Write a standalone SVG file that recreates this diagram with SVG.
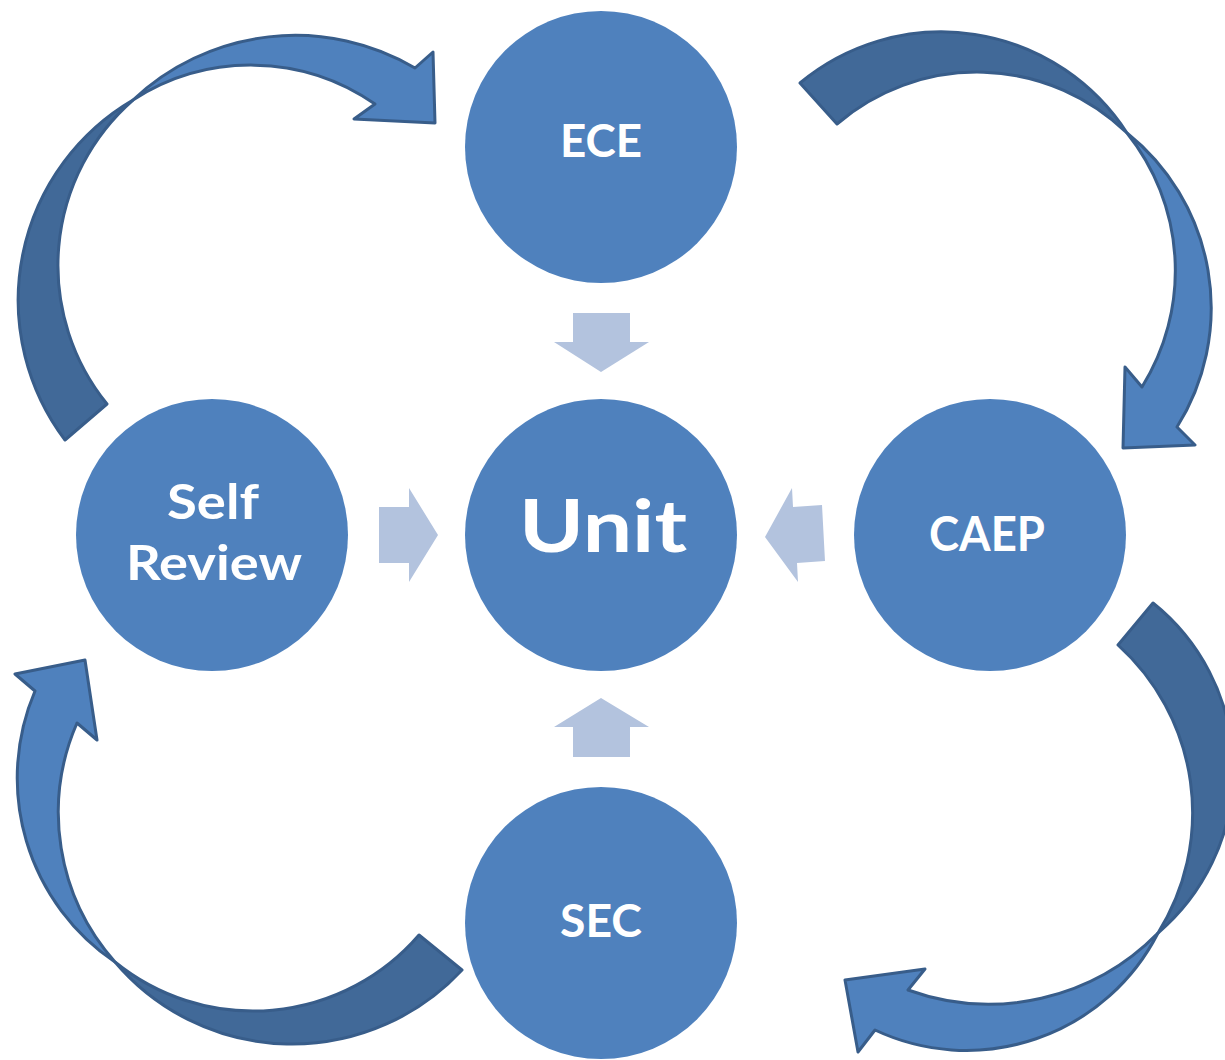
<svg xmlns="http://www.w3.org/2000/svg" width="1225" height="1060" viewBox="0 0 1225 1060">
<style>
.node{fill:#4F81BD}
.lbl{font-family:Lato,"Open Sans","Liberation Sans",sans-serif;font-weight:bold;fill:#FFFFFF;text-anchor:middle}
.dark{fill:#416998;stroke:#385D8A;stroke-width:3;stroke-linejoin:round}
.light{fill:#4F81BD;stroke:#385D8A;stroke-width:3;stroke-linejoin:round}
.flow{fill:#B3C3DE}
</style>
<rect width="1225" height="1060" fill="#FFFFFF"/>
<g id="connectors">
  <g id="cycle-tl">
    <path class="dark" d="M65,440 A232,232 0 0 1 133,100 A220,220 0 0 0 107,404 Z"/>
    <path class="light" d="M133,100 A236,236 0 0 1 415,68 L433,52 L435,123 L354,119 L375,104 A217,217 0 0 0 133,100 Z"/>
  </g>
  <g id="cycle-tr">
    <path class="dark" d="M800,83 A221,221 0 0 1 1127,133 A215,215 0 0 0 837,124 Z"/>
    <path class="light" d="M1127,133 A224,224 0 0 1 1177,427 L1195,445 L1123,448 L1125,367 L1142,387 A220,220 0 0 0 1127,133 Z"/>
  </g>
  <g id="cycle-br">
    <path class="dark" d="M1153,603 A214,214 0 0 1 1158,933 A226,226 0 0 0 1118,645 Z"/>
    <path class="light" d="M1158,933 A215,215 0 0 1 875,1030 L858,1052 L845,980 L925,969 L908,990 A237,237 0 0 0 1158,933 Z"/>
  </g>
  <g id="cycle-bl">
    <path class="dark" d="M462,970 A232,232 0 0 1 115,962 A219,219 0 0 0 419,935 Z"/>
    <path class="light" d="M115,962 A222,222 0 0 1 35,691 L15,674 L85,660 L97,740 L77,723 A225,225 0 0 0 115,962 Z"/>
  </g>
  <polygon class="flow" points="573,313 630,313 630,342 649,342 601,372 554,342 573,342"/>
  <polygon class="flow" points="573,757 630,757 630,727 649,727 601,698 554,727 573,727"/>
  <polygon class="flow" points="379,507 409,507 409,488 438,535 409,582 409,563 379,563"/>
  <polygon class="flow" points="822,505 793,507 792,488 765,537 798,582 797,563 825,561"/>
</g>
<g id="node-ece">
  <circle class="node" cx="601" cy="147" r="136"/>
  <text class="lbl" x="601" y="157" font-size="45" textLength="82" lengthAdjust="spacingAndGlyphs">ECE</text>
</g>
<g id="node-unit">
  <circle class="node" cx="601" cy="535" r="136"/>
  <text class="lbl" x="603" y="552" font-size="73" textLength="168" lengthAdjust="spacingAndGlyphs">Unit</text>
</g>
<g id="node-self-review">
  <circle class="node" cx="212" cy="535" r="136"/>
  <text class="lbl" x="213" y="519" font-size="47" textLength="92" lengthAdjust="spacingAndGlyphs">Self</text>
  <text class="lbl" x="214" y="580" font-size="47" textLength="176" lengthAdjust="spacingAndGlyphs">Review</text>
</g>
<g id="node-caep">
  <circle class="node" cx="990" cy="535" r="136"/>
  <text class="lbl" x="987" y="551" font-size="47" textLength="116" lengthAdjust="spacingAndGlyphs">CAEP</text>
</g>
<g id="node-sec">
  <circle class="node" cx="601" cy="923" r="136"/>
  <text class="lbl" x="601" y="937" font-size="46" textLength="82" lengthAdjust="spacingAndGlyphs">SEC</text>
</g>
</svg>
